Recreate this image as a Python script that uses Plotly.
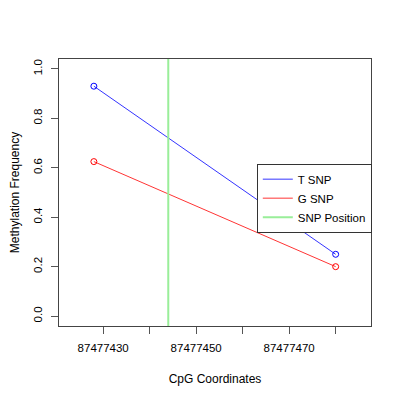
import plotly.graph_objects as go

# CpG positions and methylation frequency per allele
cpg_pos = [87477428, 87477480]
t_snp = [0.93, 0.25]
g_snp = [0.625, 0.2]
snp_position = 87477444

x_ticks = [87477430, 87477440, 87477450, 87477460, 87477470, 87477480]
x_labels = ["87477430", "", "87477450", "", "87477470", ""]
y_ticks = [0.0, 0.2, 0.4, 0.6, 0.8, 1.0]
y_labels = ["0.0", "0.2", "0.4", "0.6", "0.8", "1.0"]

series = [("T SNP", t_snp, "#0000ff"), ("G SNP", g_snp, "#ff0000")]

fig = go.Figure()
for name, vals, col in series:
    # line only in the legend, open circles drawn separately
    fig.add_trace(go.Scatter(
        x=cpg_pos, y=vals, mode="lines", name=name,
        line=dict(color=col, width=0.8),
    ))
for name, vals, col in series:
    fig.add_trace(go.Scatter(
        x=cpg_pos, y=vals, mode="markers", showlegend=False,
        marker=dict(symbol="circle-open", size=6, color=col, line=dict(width=1)),
    ))
fig.add_trace(go.Scatter(
    x=[snp_position, snp_position], y=[-0.04, 1.04], mode="lines", name="SNP Position",
    line=dict(color="#99ee99", width=2),
))

axis_common = dict(
    showline=True, linecolor="#444444", linewidth=1, mirror=True,
    ticks="outside", ticklen=7, tickcolor="#555555", showgrid=False, zeroline=False,
    tickfont=dict(size=11.5, color="black"), automargin=False, ticklabelstandoff=4,
)
fig.update_xaxes(
    range=[87477420.5, 87477487.6], tickvals=x_ticks, ticktext=x_labels,
    title=dict(text="CpG Coordinates", font=dict(size=12, color="black"), standoff=21),
    **axis_common,
)
fig.update_yaxes(
    range=[-0.04, 1.04], tickvals=y_ticks, ticktext=y_labels,
    tickangle=-90,
    title=dict(text="Methylation Frequency", font=dict(size=12, color="black"), standoff=26),
    **axis_common,
)
# page body has an 8px margin, so the figure is a bit smaller than the window
fig.update_layout(
    width=392, height=392,
    margin=dict(l=51, r=29, t=51, b=74),
    paper_bgcolor="white", plot_bgcolor="white",
    font=dict(family="Liberation Sans, Arial, sans-serif", size=12, color="black"),
    legend=dict(
        x=0.634, y=0.608, xanchor="left", yanchor="top",
        bordercolor="#333333", borderwidth=1, bgcolor="white",
        font=dict(size=11.5), tracegroupgap=0, itemwidth=30,
    ),
)
fig.write_html("out.html")
